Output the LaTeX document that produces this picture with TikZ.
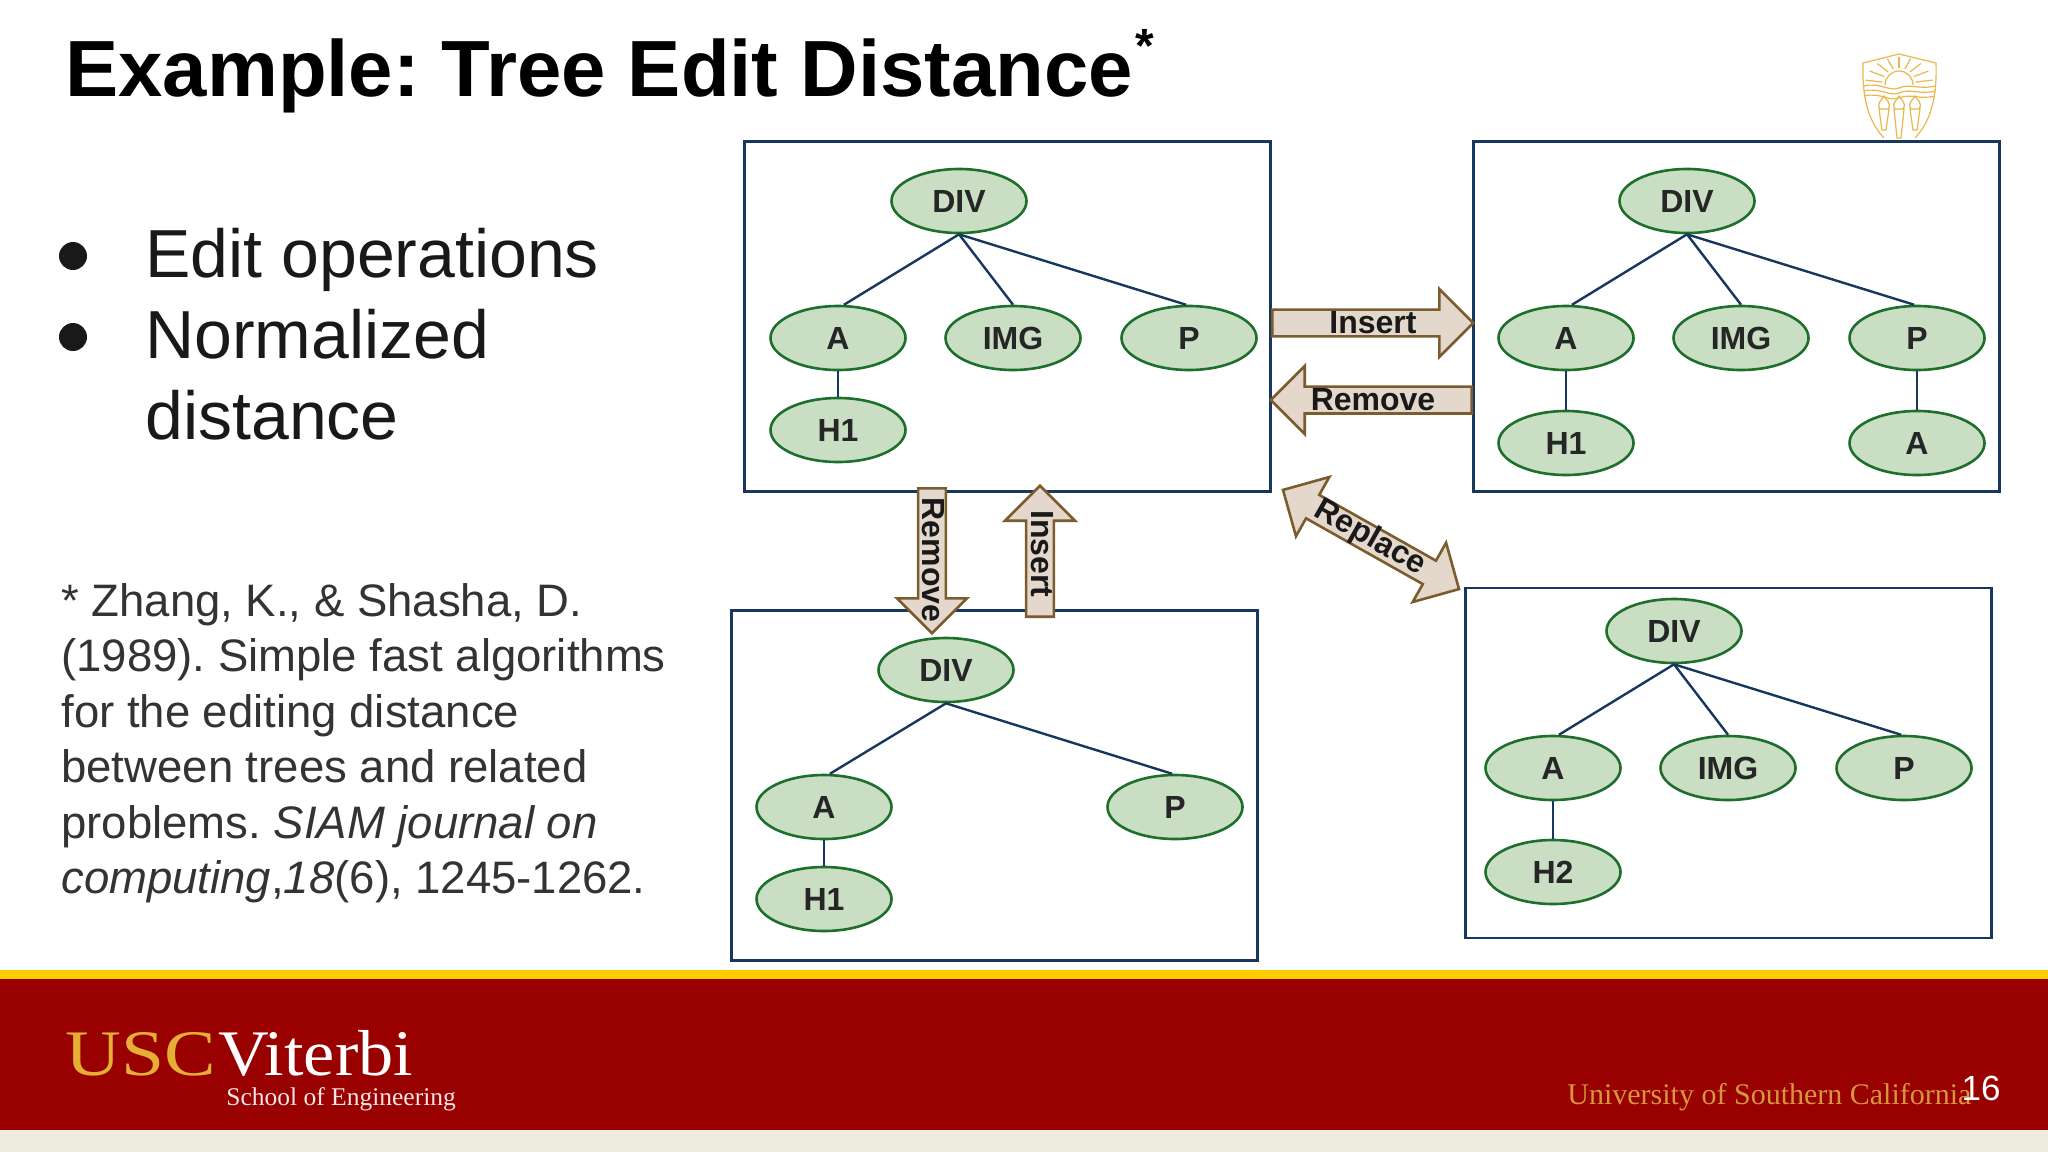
\documentclass[tikz,border=0pt]{standalone}
\usepackage{fontspec}
\setmainfont{Liberation Sans}
\newfontfamily\uscfont[FakeStretch=1.19]{Liberation Serif}
\newfontfamily\vitfont[FakeStretch=1.08]{Liberation Serif}
\newfontfamily\logofont{Liberation Serif}
\usetikzlibrary{shapes,arrows,positioning,calc,shapes.arrows}
\definecolor{uscred}{HTML}{990000}
\definecolor{uscgold}{HTML}{FFCC00}
\definecolor{uscbase}{HTML}{EEEBDF}
\definecolor{logogold}{HTML}{E5AE35}
\definecolor{univgold}{HTML}{D8953F}
\definecolor{sealgold}{HTML}{E8B84B}
\definecolor{boxblue}{HTML}{17375E}
\definecolor{leafgreen}{HTML}{C9DEC3}
\definecolor{rimgreen}{HTML}{1E6F2C}
\definecolor{opsfill}{HTML}{E4D8CC}
\definecolor{opsrim}{HTML}{7A5C2E}
\frenchspacing
\tikzset{
    treebox/.style={draw=boxblue, line width=1.3pt, minimum width=263pt, minimum height=175pt},
    treenode/.style={draw=rimgreen, fill=leafgreen, ellipse, line width=1.3pt, minimum width=67.5pt, minimum height=32pt, inner sep=0pt, font=\fontsize{16}{16}\selectfont\bfseries, text=black!85},
    treeedge/.style={draw=boxblue, line width=1.2pt},
    opsarrow/.style={draw=opsrim, fill=opsfill, line width=1.3pt, single arrow, minimum width=34pt, inner xsep=0pt, inner ysep=4pt},
    opsdouble/.style={draw=opsrim, fill=opsfill, line width=1.3pt, double arrow, minimum width=34pt, inner xsep=0pt, inner ysep=4pt},
    opslabel/.style={inner sep=0pt, font=\fontsize{16}{16}\selectfont\bfseries, text=black!90},
    seal/.style={draw=sealgold, line width=0.6pt}
}
\begin{document}
\begin{tikzpicture}[x=0.5pt,y=-0.5pt]
    \useasboundingbox (0,0) rectangle (2048,1152);
    \fill[white] (0,0) rectangle (2048,1152);

    % Footer
    \fill[uscgold] (0,970) rectangle (2048,979);
    \fill[uscred] (0,979) rectangle (2048,1130);
    \fill[uscbase] (0,1130) rectangle (2048,1152);
    \node[anchor=base west, inner sep=0pt, text=logogold, font=\uscfont\fontsize{32.5}{32.5}\selectfont] (usc) at (65,1075) {USC};
    \node[anchor=base west, inner sep=0pt, text=white, font=\vitfont\fontsize{32.5}{32.5}\selectfont] (viterbi) at (218,1075) {Viterbi};
    \node[anchor=base west, inner sep=0pt, text=white!90!uscred, font=\logofont\fontsize{12.75}{12.75}\selectfont] (school) at (226,1105) {School of Engineering};
    \node[anchor=base west, inner sep=0pt, text=univgold, font=\logofont\fontsize{15}{15}\selectfont] (univ) at (1567,1104) {University of Southern California};
    \node[anchor=base east, inner sep=0pt, text=white, font=\fontsize{17.5}{17.5}\selectfont] (pagenum) at (2001,1100) {16};

    % Title and text
    \node[anchor=base west, inner sep=0pt, font=\fontsize{39.85}{40}\selectfont\bfseries] (title) at (65,96) {Example: Tree Edit Distance};
    \node[anchor=base west, inner sep=0pt, font=\fontsize{24}{24}\selectfont\bfseries] (star) at (1135,62) {*};
    \node[anchor=base west, inner sep=0pt, font=\fontsize{34}{34}\selectfont, text=black!90] (ops) at (145,277) {Edit operations};
    \node[anchor=base west, inner sep=0pt, font=\fontsize{34}{34}\selectfont, text=black!90] (norm) at (145,358) {Normalized};
    \node[anchor=base west, inner sep=0pt, font=\fontsize{34}{34}\selectfont, text=black!90] (dist) at (145,439) {distance};
    \fill[black!90] (73,256) circle (14);
    \fill[black!90] (73,337) circle (14);
    \node[anchor=north west, inner sep=0pt, font=\fontsize{22.75}{27.75}\selectfont, text=black!80, align=left] (cite) at (61,583) {* Zhang, K., \& Shasha, D.\\(1989). Simple fast algorithms\\for the editing distance\\between trees and related\\problems. \textit{SIAM journal on}\\\textit{computing},\textit{18}(6), 1245-1262.};

    % Top left tree
    \node[treebox] (boxa) at (1007.5,316.5) {};
    \node[treenode] (diva) at (959,201) {DIV};
    \node[treenode] (aa) at (838,338) {A};
    \node[treenode] (imga) at (1013,338) {IMG};
    \node[treenode] (pa) at (1189,338) {P};
    \node[treenode] (hia) at (838,430) {H1};
    \draw[treeedge] (diva.south) -- (aa.80);
    \draw[treeedge] (diva.south) -- (imga.north);
    \draw[treeedge] (diva.south) -- (pa.95);
    \draw[treeedge] (aa) -- (hia);

    % Top right tree
    \node[treebox] (boxb) at (1736.5,316.5) {};
    \node[treenode] (divb) at (1687,201) {DIV};
    \node[treenode] (ab) at (1566,338) {A};
    \node[treenode] (imgb) at (1741,338) {IMG};
    \node[treenode] (pb) at (1917,338) {P};
    \node[treenode] (hib) at (1566,443) {H1};
    \node[treenode] (leafb) at (1917,443) {A};
    \draw[treeedge] (divb.south) -- (ab.80);
    \draw[treeedge] (divb.south) -- (imgb.north);
    \draw[treeedge] (divb.south) -- (pb.95);
    \draw[treeedge] (ab) -- (hib);
    \draw[treeedge] (pb) -- (leafb);

    % Bottom left tree
    \node[treebox] (boxc) at (994.5,785.5) {};
    \node[treenode] (divc) at (946,670) {DIV};
    \node[treenode] (ac) at (824,807) {A};
    \node[treenode] (pc) at (1175,807) {P};
    \node[treenode] (hic) at (824,899) {H1};
    \draw[treeedge] (divc.south) -- (ac.80);
    \draw[treeedge] (divc.south) -- (pc.95);
    \draw[treeedge] (ac) -- (hic);

    % Bottom right tree
    \node[treebox] (boxd) at (1728.5,763) {};
    \node[treenode] (divd) at (1674,631) {DIV};
    \node[treenode] (ad) at (1553,768) {A};
    \node[treenode] (imgd) at (1728,768) {IMG};
    \node[treenode] (pd) at (1904,768) {P};
    \node[treenode] (hid) at (1553,872) {H2};
    \draw[treeedge] (divd.south) -- (ad.80);
    \draw[treeedge] (divd.south) -- (imgd.north);
    \draw[treeedge] (divd.south) -- (pd.95);
    \draw[treeedge] (ad) -- (hid);

    % Edit arrows
    \node[opsarrow, minimum height=100.5pt, anchor=tail] (insright) at (1271,323) {};
    \node[opslabel] (insrightlabel) at (1373,323) {Insert};
    \node[opsarrow, minimum height=100.5pt, shape border rotate=180, anchor=tail] (remleft) at (1473,400) {};
    \node[opslabel] (remleftlabel) at (1373,400) {Remove};
    \node[opsarrow, minimum height=72.5pt, minimum width=35pt, rotate=-90, anchor=tail] (remdown) at (932,487) {};
    \node[opslabel, rotate=-90] (remdownlabel) at (933,560) {Remove};
    \node[opsarrow, minimum height=65.5pt, minimum width=35pt, rotate=-90, shape border rotate=180, anchor=tail] (insup) at (1040,618) {};
    \node[opslabel, rotate=-90] (insuplabel) at (1042,554) {Insert};
    \node[opsdouble, minimum height=101pt, rotate=-29.4] (replace) at (1371,539.5) {};
    \node[opslabel, rotate=-29.4] (replacelabel) at (1370,538) {Replace};

    % Seal
    \draw[seal] (1863,63) -- (1899,54) -- (1936,63) .. controls (1937,95) and (1932,120) .. (1915,138);
    \draw[seal] (1863,63) .. controls (1862,95) and (1867,120) .. (1884,138);
    \draw[seal] (1885,85) arc (180:360:14);
    \foreach \ang in {190,210,...,350} {
        \draw[seal] ($(1899,85)+(\ang:17)$) -- ($(1899,85)+(\ang:34 and 28)$);
    }
    \foreach \lev in {86,91,96} {
        \draw[seal] (1864,\lev) .. controls (1880,\lev-4) and (1890,\lev+6) .. (1899,\lev+2) .. controls (1910,\lev-3) and (1920,\lev+4) .. (1935,\lev);
    }
    \foreach \tx/\tb in {1884/130,1899/138,1915/130} {
        \draw[seal] (\tx-5,109) -- (\tx+5,109) -- (\tx+2,\tb) -- (\tx-2,\tb) -- cycle;
        \draw[seal] (\tx-4,109) .. controls (\tx-8,103) and (\tx-2,100) .. (\tx,96) .. controls (\tx+2,100) and (\tx+8,103) .. (\tx+4,109);
    }
\end{tikzpicture}
\end{document}
